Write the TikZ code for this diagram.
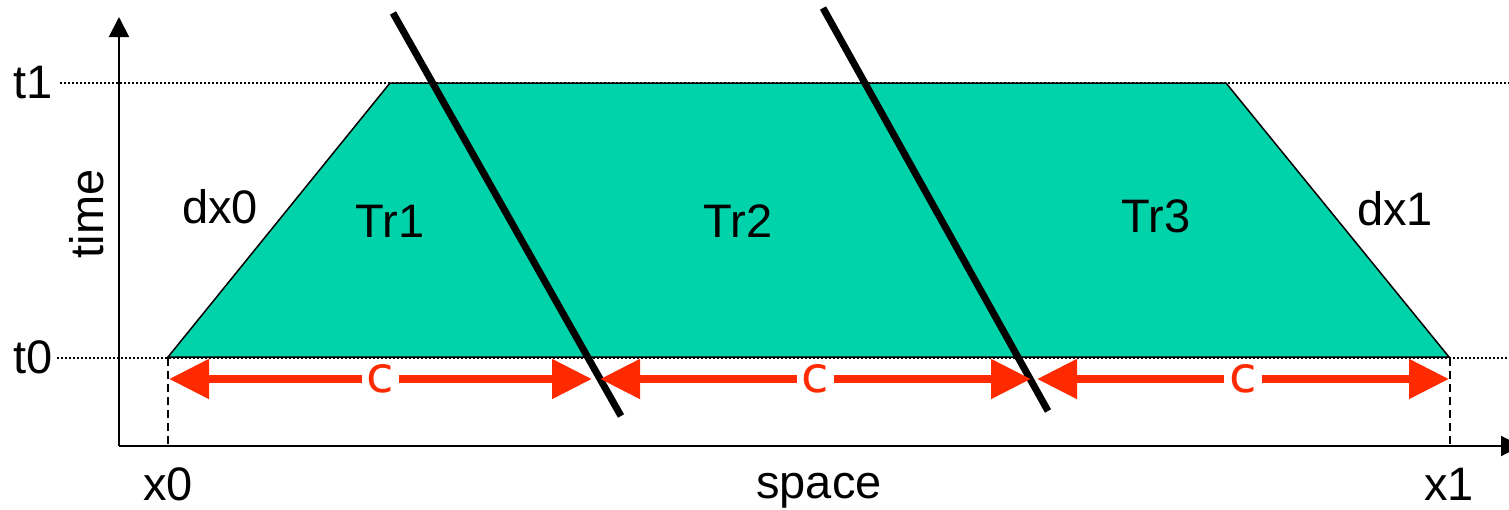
\documentclass[tikz,border=0pt]{standalone}
\usepackage{fontspec}
\setmainfont{Liberation Sans}
\newfontfamily\cfont{DejaVu Sans}
\usetikzlibrary{arrows.meta}
\definecolor{regionfill}{HTML}{00D2AA}
\definecolor{spanred}{HTML}{FF2A00}
\begin{document}
\begin{tikzpicture}[x=1pt,y=-1pt,
  lbl/.style={font=\fontsize{47}{56}\selectfont, inner sep=0pt, anchor=base},
  clbl/.style={font=\cfont\fontsize{50}{60}\selectfont, text=spanred, fill=white, inner sep=5pt},
  axis/.style={line width=2pt, -{Triangle[length=20pt,width=20pt]}},
  guide/.style={line width=1.2pt, dash pattern=on 2pt off 2pt},
  drop/.style={line width=1.5pt, dash pattern=on 8pt off 5pt},
  cut/.style={line width=7pt},
  span/.style={spanred, line width=8pt, {Triangle[length=40pt,width=38pt]}-{Triangle[length=40pt,width=38pt]}},
]
\useasboundingbox (0,0) rectangle (1509,509);
% corners
\coordinate (A) at (168,357);
\coordinate (B) at (390,83);
\coordinate (C) at (1226,83);
\coordinate (D) at (1449,357);
% region
\fill[regionfill] (A) -- (B) -- (C) -- (D) -- cycle;
\draw[line width=1.5pt, line join=miter] (A) -- (B) -- (C) -- (D) -- cycle;
% guides
\coordinate (g1s) at (60,83);
\coordinate (g1e) at (1509,83);
\coordinate (g0s) at (57,358);
\coordinate (g0e) at (1509,358);
\draw[guide] (g1s) -- (g1e);
\draw[guide] (g0s) -- (g0e);
% axes
\coordinate (O) at (119,446);
\coordinate (ytop) at (119,17);
\coordinate (xend) at (1521,446);
\draw[axis] (O) -- (ytop);
\draw[axis] (O) -- (xend);
% drops
\coordinate (xa) at (168,446);
\coordinate (xb) at (1450,446);
\draw[drop] (168,358) -- (xa);
\draw[drop] (1450,358) -- (xb);
% cuts
\coordinate (c1a) at (393,13);
\coordinate (c1b) at (621,416);
\coordinate (c2a) at (823,8);
\coordinate (c2b) at (1048,411);
\draw[cut] (c1a) -- (c1b);
\draw[cut] (c2a) -- (c2b);
% spans
\coordinate (s1a) at (169,379);
\coordinate (s1b) at (592,379);
\coordinate (s2a) at (600,379);
\coordinate (s2b) at (1031,379);
\coordinate (s3a) at (1037,379);
\coordinate (s3b) at (1449,379);
\draw[span] (s1a) -- node[clbl] (cc1) {c} (s1b);
\draw[span] (s2a) -- node[clbl] (cc2) {c} (s2b);
\draw[span] (s3a) -- node[clbl] (cc3) {c} (s3b);
% labels
\node[lbl] (t1) at (33,98) {t1};
\node[lbl] (t0) at (33,373) {t0};
\node[font=\fontsize{47}{56}\selectfont, inner sep=0pt, rotate=90] (time) at (87,214) {time};
\node[lbl] (dx0) at (220,223) {dx0};
\node[lbl] (tr1) at (390,237) {Tr1};
\node[lbl] (tr2) at (738,237) {Tr2};
\node[lbl] (tr3) at (1156,232) {Tr3};
\node[lbl] (dx1) at (1395,225) {dx1};
\node[lbl] (x0) at (168,500) {x0};
\node[lbl] (space) at (819,498) {space};
\node[lbl] (x1) at (1449,500) {x1};
\end{tikzpicture}
\end{document}
